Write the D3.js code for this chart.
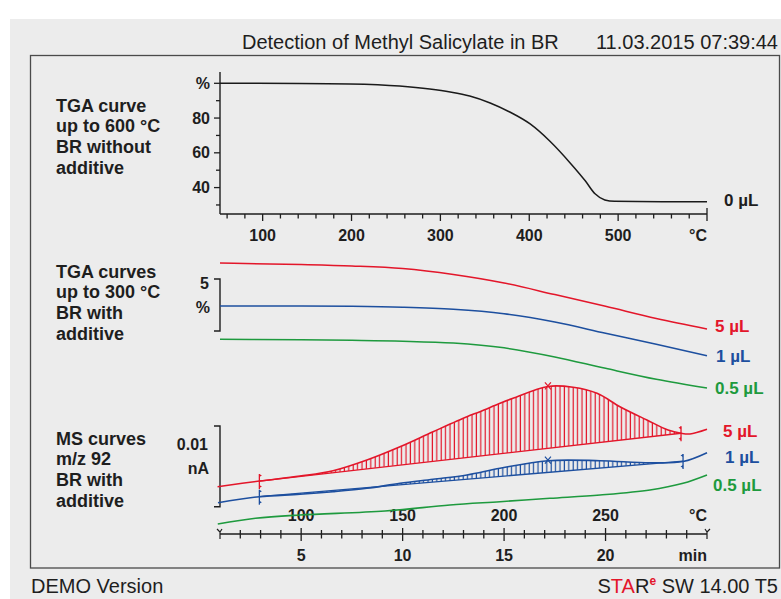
<!DOCTYPE html>
<html><head><meta charset="utf-8">
<script src="https://cdn.jsdelivr.net/npm/d3@7"></script>
<style>
body{margin:0;background:#fff;}
svg{display:block;}
text{font-family:"Liberation Sans",Arial,Helvetica,sans-serif;fill:#1e1e1e;}
</style>
</head><body>
<svg id="c" width="781" height="599"></svg>
<script>
// ---------------- DATA ----------------
const titleText = "Detection of Methyl Salicylate in BR";
const dateText = "11.03.2015 07:39:44";

// Top: TGA curve up to 600 °C (BR without additive)
const topTemps = [52, 142, 198, 254, 288, 311, 333, 356, 378, 401, 423, 446, 463, 474, 485, 496, 550, 600];
const topMass  = [100, 99.9, 99.6, 98.4, 96.7, 95.0, 92.7, 88.7, 83.5, 76.6, 66.8, 54.2, 43.9, 36.4, 32.9, 32.1, 31.9, 31.8];
const topXTicks = [100, 200, 300, 400, 500];
const topYTicks = [40, 60, 80, 100];
const topYLabels = ["40", "60", "80", "%"];

// Middle: TGA curves up to 300 °C (BR with additive) — displayed %, curves offset
const midTemps = [60, 100, 125, 150, 175, 200, 225, 250, 275, 300];
const mid5uL   = [104.13, 103.99, 103.85, 103.6, 103.03, 102.21, 101.1, 99.97, 98.8, 97.79];
const mid1uL   = [100.0, 100.0, 99.97, 99.88, 99.68, 99.25, 98.46, 97.38, 96.32, 95.22];
const mid05uL  = [96.8, 96.75, 96.7, 96.62, 96.44, 95.98, 95.11, 94.01, 92.96, 92.12];

// Bottom: MS curves m/z 92 (nA, displayed with offsets)
const ms5T  = [58.8, 79.4, 99.4, 115.7, 132.4, 148.7, 165, 181.7, 188.1, 198, 204.4, 221.6, 234, 245.8, 257.1, 270.4, 280.8, 287.2, 291.6, 300];
const ms5   = [0.00248, 0.00318, 0.00380, 0.00446, 0.00579, 0.00743, 0.00929, 0.01115, 0.01177, 0.01281, 0.01343, 0.01490, 0.01480, 0.01405, 0.01239, 0.01074, 0.00950, 0.00910, 0.00901, 0.00959];
const ms1T  = [59, 79.4, 99.4, 115.7, 132.4, 148.7, 165, 181.7, 198, 221.6, 247.3, 271.9, 288.2, 300];
const ms1   = [0.00050, 0.00124, 0.00154, 0.00186, 0.00228, 0.00290, 0.00340, 0.00393, 0.00476, 0.00570, 0.00570, 0.00545, 0.00560, 0.00669];
const ms05T = [58.9, 77.5, 99.4, 141.3, 173.3, 198, 222.6, 247.3, 271.9, 288.2, 300];
const ms05  = [-0.00214, -0.00144, -0.00103, -0.00053, 0.00021, 0.00062, 0.00104, 0.00145, 0.00207, 0.00290, 0.00393];

// Integration (peak) evaluation on the MS curves
const limits5 = [79.4, 287.2], base5 = [0.00318, 0.00910];
const limits1 = [79.4, 288.2], base1 = [0.00124, 0.00566];
const peakT5 = 221.6, peakT1 = 221.6;

// Shared bottom axes
const timeDomain = [1, 25];       // min
const tempDomain = [60, 300];     // °C (10 K/min)
const timeTicks = [5, 10, 15, 20];
const tempTicks = [100, 150, 200, 250];

const seriesLabels = ["5 µL", "1 µL", "0.5 µL"];
const colors = {red: "#e3162a", blue: "#1d4f9f", green: "#1e9a3e", black: "#1a1a1a"};

// ---------------- DRAW ----------------
const svg = d3.select("#c");
const defs = svg.append("defs");

// page background
svg.append("rect").attr("x", 10).attr("y", 19).attr("width", 771).attr("height", 580).attr("fill", "#ececec");
// frame
svg.append("rect").attr("x", 30.5).attr("y", 55.5).attr("width", 749).attr("height", 512.5)
  .attr("fill", "none").attr("stroke", "#4a4a4a").attr("stroke-width", 1.3);

// title
svg.append("text").attr("x", 242).attr("y", 48.5).attr("font-size", 20).text(titleText);
svg.append("text").attr("x", 778).attr("y", 48.5).attr("font-size", 20).attr("text-anchor", "end").text(dateText);

// footer
svg.append("text").attr("x", 31).attr("y", 593).attr("font-size", 20).text("DEMO Version");
const ft = svg.append("text").attr("x", 778).attr("y", 593).attr("font-size", 20).attr("text-anchor", "end");
ft.append("tspan").text("S");
ft.append("tspan").style("fill", colors.red).text("TA");
ft.append("tspan").text("R");
ft.append("tspan").style("fill", colors.red).attr("font-size", 12).attr("dy", -8).attr("font-weight", "bold").text("e");
ft.append("tspan").attr("dy", 8).text(" SW 14.00 T5");

// left description blocks
function desc(lines, y0) {
  const t = svg.append("text").attr("x", 56).attr("font-size", 18).attr("font-weight", "bold");
  lines.forEach((l, i) => t.append("tspan").attr("x", 56).attr("y", y0 + i * 20.7).text(l));
}
desc(["TGA curve", "up to 600 °C", "BR without", "additive"], 111.5);
desc(["TGA curves", "up to 300 °C", "BR with", "additive"], 277.5);
desc(["MS curves", "m/z 92", "BR with", "additive"], 444.5);

// ---------- TOP CHART ----------
const xTop = d3.scaleLinear().domain([52, 600]).range([220, 707]);
const yTop = d3.scaleLinear().domain([24.8, 106.5]).range([214, 72]);
const gTop = svg.append("g");
const axCol = "#1e1e1e";
// y axis
gTop.append("line").attr("x1", 220).attr("x2", 220).attr("y1", yTop.range()[1]).attr("y2", yTop.range()[0]).attr("stroke", axCol).attr("stroke-width", 1.4);
d3.range(30, 101, 10).forEach(v => {
  const major = v % 20 === 0;
  gTop.append("line").attr("x1", 220).attr("x2", major ? 214 : 216).attr("y1", yTop(v)).attr("y2", yTop(v)).attr("stroke", axCol).attr("stroke-width", 1.3);
});
topYTicks.forEach((v, i) => {
  gTop.append("text").attr("x", 210).attr("y", yTop(v) + 5.5).attr("text-anchor", "end").attr("font-size", 16).attr("font-weight", "bold").text(topYLabels[i]);
});
// x axis
gTop.append("line").attr("x1", 220).attr("x2", 707).attr("y1", 214).attr("y2", 214).attr("stroke", axCol).attr("stroke-width", 1.4);
d3.range(60, 600, 20).forEach(v => {
  const major = v % 100 === 0;
  gTop.append("line").attr("x1", xTop(v)).attr("x2", xTop(v)).attr("y1", 214).attr("y2", major ? 221 : 218.5).attr("stroke", axCol).attr("stroke-width", 1.3);
});
gTop.append("line").attr("x1", xTop(600)).attr("x2", xTop(600)).attr("y1", 208).attr("y2", 221).attr("stroke", axCol).attr("stroke-width", 1.3);
topXTicks.forEach(v => {
  gTop.append("text").attr("x", xTop(v)).attr("y", 241).attr("text-anchor", "middle").attr("font-size", 16).attr("font-weight", "bold").text(v);
});
gTop.append("text").attr("x", 707).attr("y", 241).attr("text-anchor", "end").attr("font-size", 16).attr("font-weight", "bold").text("°C");
const lineTop = d3.line().x((d, i) => xTop(topTemps[i])).y(d => yTop(d)).curve(d3.curveMonotoneX);
gTop.append("path").attr("d", lineTop(topMass)).attr("fill", "none").attr("stroke", colors.black).attr("stroke-width", 1.5);
gTop.append("text").attr("x", 724).attr("y", 205.5).attr("font-size", 17).attr("font-weight", "bold").text("0 µL");

// ---------- SHARED BOTTOM X ----------
const xT = d3.scaleLinear().domain(tempDomain).range([220, 707]);
const xt = d3.scaleLinear().domain(timeDomain).range([220, 707]);
const axY = 534;
const gAx = svg.append("g");
tempTicks.forEach(v => {
  gAx.append("text").attr("x", xT(v)).attr("y", 521).attr("text-anchor", "middle").attr("font-size", 16).attr("font-weight", "bold").text(v);
});
gAx.append("text").attr("x", 707).attr("y", 521).attr("text-anchor", "end").attr("font-size", 16).attr("font-weight", "bold").text("°C");
gAx.append("line").attr("x1", 220).attr("x2", 707).attr("y1", axY).attr("y2", axY).attr("stroke", axCol).attr("stroke-width", 1.4);
d3.range(2, 25, 1).forEach(v => {
  const major = v % 5 === 0;
  gAx.append("line").attr("x1", xt(v)).attr("x2", xt(v)).attr("y1", axY - (major ? 6 : 4)).attr("y2", axY + (major ? 7 : 4.5)).attr("stroke", axCol).attr("stroke-width", 1.3);
});
[[1, -1], [25, 1]].forEach(([v, s]) => {
  const x0 = xt(v);
  gAx.append("path").attr("d", `M${x0},${axY + 5}L${x0},${axY - 2}L${x0 + 3 * s},${axY - 5}M${x0},${axY - 2}L${x0 - 2 * s},${axY - 5}`)
    .attr("fill", "none").attr("stroke", axCol).attr("stroke-width", 1.2);
});
timeTicks.forEach(v => {
  gAx.append("text").attr("x", xt(v)).attr("y", 561).attr("text-anchor", "middle").attr("font-size", 16).attr("font-weight", "bold").text(v);
});
gAx.append("text").attr("x", 707).attr("y", 561).attr("text-anchor", "end").attr("font-size", 16).attr("font-weight", "bold").text("min");

// ---------- MIDDLE CHART ----------
const yMid = d3.scaleLinear().domain([97.6, 102.6]).range([331, 279]);
const gMid = svg.append("g");
gMid.append("path").attr("d", `M214,${yMid(102.6)}L220,${yMid(102.6)}L220,${yMid(97.6)}L214,${yMid(97.6)}`)
  .attr("fill", "none").attr("stroke", axCol).attr("stroke-width", 1.4);
gMid.append("text").attr("x", 209).attr("y", 289).attr("text-anchor", "end").attr("font-size", 16).attr("font-weight", "bold").text("5");
gMid.append("text").attr("x", 210).attr("y", 312.5).attr("text-anchor", "end").attr("font-size", 16).attr("font-weight", "bold").text("%");
const lineMid = d3.line().x((d, i) => xT(midTemps[i])).y(d => yMid(d)).curve(d3.curveMonotoneX);
[[mid5uL, colors.red], [mid1uL, colors.blue], [mid05uL, colors.green]].forEach(([arr, c]) => {
  gMid.append("path").attr("d", lineMid(arr)).attr("fill", "none").attr("stroke", c).attr("stroke-width", 1.5);
});
[[seriesLabels[0], colors.red, 715, 332], [seriesLabels[1], colors.blue, 716, 362], [seriesLabels[2], colors.green, 715, 394]].forEach(([t, c, x, y]) => {
  gMid.append("text").attr("x", x).attr("y", y).attr("font-size", 17).attr("font-weight", "bold").style("fill", c).text(t);
});

// ---------- MS CHART ----------
const yMS = d3.scaleLinear().domain([0, 0.01]).range([506.7, 426]);
const gMS = svg.append("g");
gMS.append("path").attr("d", `M214,${yMS(0.01)}L220,${yMS(0.01)}L220,${yMS(0)}L214,${yMS(0)}`)
  .attr("fill", "none").attr("stroke", axCol).attr("stroke-width", 1.4);
gMS.append("text").attr("x", 208).attr("y", 450).attr("text-anchor", "end").attr("font-size", 16).attr("font-weight", "bold").text("0.01");
gMS.append("text").attr("x", 209).attr("y", 474).attr("text-anchor", "end").attr("font-size", 16).attr("font-weight", "bold").text("nA");

function hatchPattern(id, c) {
  const p = defs.append("pattern").attr("id", id).attr("patternUnits", "userSpaceOnUse").attr("width", 4.4).attr("height", 10);
  p.append("rect").attr("x", 0.6).attr("y", 0).attr("width", 1.2).attr("height", 10).attr("fill", c);
}
hatchPattern("hatchR", colors.red);
hatchPattern("hatchB", colors.blue);

const msCurve = d3.curveCatmullRom.alpha(0.5);
function msSeries(T, V, c, lim, base, peakT, hatchId, clipId) {
  if (lim) {
    const bl = d3.scaleLinear().domain(lim).range(base);
    defs.append("clipPath").attr("id", clipId).append("rect")
      .attr("x", xT(lim[0])).attr("y", 300).attr("width", xT(lim[1]) - xT(lim[0])).attr("height", 300);
    const area = d3.area().x((d, i) => xT(T[i])).y0((d, i) => yMS(bl(T[i]))).y1(d => yMS(d)).curve(msCurve);
    gMS.append("path").attr("d", area(V)).attr("fill", `url(#${hatchId})`).attr("clip-path", `url(#${clipId})`);
    gMS.append("line").attr("x1", xT(lim[0])).attr("x2", xT(lim[1])).attr("y1", yMS(base[0])).attr("y2", yMS(base[1]))
      .attr("stroke", c).attr("stroke-width", 1.3);
  }
  const line = d3.line().x((d, i) => xT(T[i])).y(d => yMS(d)).curve(msCurve);
  gMS.append("path").attr("d", line(V)).attr("fill", "none").attr("stroke", c).attr("stroke-width", 1.6);
  if (lim) {
    lim.forEach((t, k) => {
      const x0 = xT(t), y0 = yMS(base[k]);
      const s = k === 0 ? 1 : -1;
      gMS.append("line").attr("x1", x0).attr("x2", x0).attr("y1", y0 - 7).attr("y2", y0 + 8).attr("stroke", c).attr("stroke-width", 1.3);
      gMS.append("path").attr("d", `M${x0},${y0 - 7}l${2.5 * s},1.5l${-2.5 * s},1.5Z M${x0},${y0 + 4}l${2.5 * s},1.5l${-2.5 * s},1.5Z`).attr("fill", c);
    });
    const idx = T.indexOf(peakT);
    const px = xT(peakT), py = idx >= 0 ? yMS(V[idx]) : yMS(d3.max(V));
    gMS.append("path").attr("d", `M${px - 3},${py - 4}L${px + 3},${py + 3}M${px + 3},${py - 4}L${px - 3},${py + 3}`)
      .attr("stroke", c).attr("stroke-width", 1.2);
  }
}
msSeries(ms5T, ms5, colors.red, limits5, base5, peakT5, "hatchR", "clipR");
msSeries(ms1T, ms1, colors.blue, limits1, base1, peakT1, "hatchB", "clipB");
msSeries(ms05T, ms05, colors.green, null);

[[seriesLabels[0], colors.red, 723, 437], [seriesLabels[1], colors.blue, 725, 463], [seriesLabels[2], colors.green, 713, 491]].forEach(([t, c, x, y]) => {
  gMS.append("text").attr("x", x).attr("y", y).attr("font-size", 17).attr("font-weight", "bold").style("fill", c).text(t);
});
</script>
</body></html>
